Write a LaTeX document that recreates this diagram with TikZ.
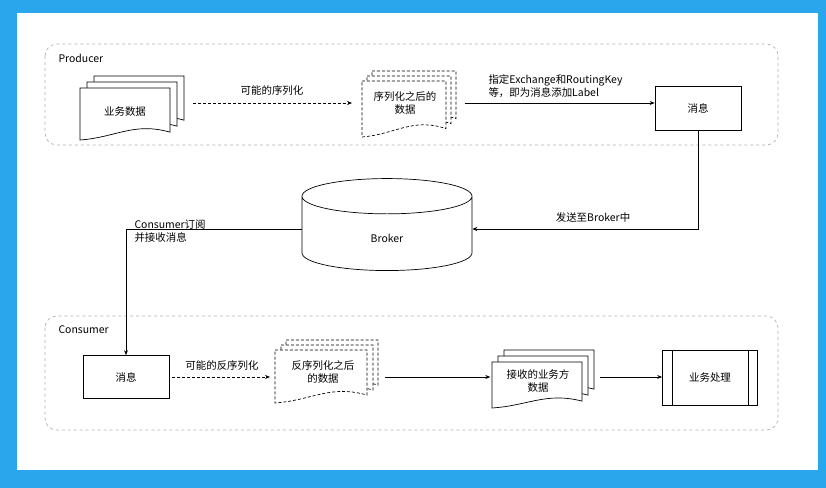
\documentclass[tikz,border=0pt]{standalone}
\usepackage{fontspec}
\setmainfont{Noto Sans CJK SC}
\usetikzlibrary{shapes.geometric,arrows.meta}
\definecolor{frame}{HTML}{2AA6EC}
\newcommand{\docpath}[5]{% x y w h style
  \filldraw[fill=white,#5] (#1,#2) -- ++(#3,0) -- ++(0,{0.85*#4})
   .. controls ++({-0.4*#3},{-0.2*#4}) and ++({0.4*#3},{-0.05*#4}) .. ({#1},{#2+#4}) -- cycle;}
\begin{document}
\begin{tikzpicture}[x=1bp,y=-1bp,
  txt/.style={font=\fontsize{10.5}{13.5}\selectfont,align=center},
  grp/.style={draw=black!30,dashed,rounded corners=12,line width=0.7pt},
  ln/.style={line width=0.7pt,-{Stealth[length=5pt,width=4pt]}},
  dln/.style={ln,densely dashed},
  box/.style={draw,line width=0.7pt,fill=white,minimum width=86bp,minimum height=44bp,txt}]
\useasboundingbox (0,0) rectangle (826,488);
\fill[frame] (0,0) rectangle (826,488);
\fill[white] (17,13) rectangle (818,470);
% groups
\draw[grp] (45,44) rectangle (778,145);
\draw[grp] (45,316) rectangle (778,430);
\node[txt,font=\fontsize{10.5}{13}\selectfont,anchor=west] (plab) at (55,58) {Producer};
\node[txt,font=\fontsize{10.5}{13}\selectfont,anchor=west] (clab) at (55,330) {Consumer};
% producer docs
\docpath{94}{76}{90}{52}{line width=0.7pt}
\docpath{87}{82}{90}{52}{line width=0.7pt}
\docpath{80}{88}{90}{52}{line width=0.7pt}
\node[txt,minimum width=90bp,minimum height=46bp] (d1) at (125,112) {业务数据};
\docpath{372}{71}{84}{56}{densely dashed,line width=0.7pt}
\docpath{367}{76}{84}{56}{densely dashed,line width=0.7pt}
\docpath{362}{81}{84}{56}{densely dashed,line width=0.7pt}
\node[txt,minimum width=95bp,minimum height=46bp] (d2) at (405,103) {序列化之后的\\数据};
\node[box] (m1) at (698,108) {消息};
\draw[dln] (d1.east |- 0,103) ++(23,0) coordinate (a1) -- (352,103) coordinate (a2);
\node[txt] (l1) at (272,91) {可能的序列化};
\draw[ln] (d2.east |- 0,103) ++(12,0) -- (m1.west |- 0,103);
\node[txt,align=left,anchor=west] (l2) at (485,86) {指定Exchange和RoutingKey\\等，即为消息添加Label};
% broker
\node[cylinder,shape border rotate=90,draw,line width=0.7pt,minimum width=170bp,minimum height=92bp,aspect=0.9,txt] (br) at (387,236) {\\Broker};
\draw[ln] (m1.south) |- (br.east |- 0,229);
\node[txt] (l3) at (593,218) {发送至Broker中};
% consumer
\node[box,minimum height=43bp] (m2) at (126,377) {消息};
\draw[ln] (br.west |- 0,229) -| (m2.north);
\node[txt,align=left,anchor=west] (l4) at (131,231) {Consumer订阅\\并接收消息};
\docpath{286}{340}{92}{53}{densely dashed,line width=0.7pt}
\docpath{281}{345}{92}{53}{densely dashed,line width=0.7pt}
\docpath{275}{350}{92}{53}{densely dashed,line width=0.7pt}
\node[txt,minimum width=105bp,minimum height=46bp] (d3) at (323,372) {反序列化之后\\的数据};
\draw[dln] (m2.east |- 0,377) ++(3,0) -- (270,377);
\node[txt] (l5) at (222,366) {可能的反序列化};
\docpath{504}{350}{90}{46}{line width=0.7pt}
\docpath{498}{356}{90}{46}{line width=0.7pt}
\docpath{492}{362}{90}{46}{line width=0.7pt}
\node[txt,minimum width=95bp,minimum height=46bp] (d4) at (538,381) {接收的业务方\\数据};
\draw[ln] (385,377) -- (d4.west |- 0,377);
\node[box,minimum width=95bp,minimum height=55bp] (p) at (710,378) {业务处理};
\draw[line width=0.7pt] ([xshift=10bp]p.north west) -- ([xshift=10bp]p.south west)
  ([xshift=-10bp]p.north east) -- ([xshift=-10bp]p.south east);
\draw[ln] (600,377) -- (p.west |- 0,377);
\end{tikzpicture}
\end{document}
